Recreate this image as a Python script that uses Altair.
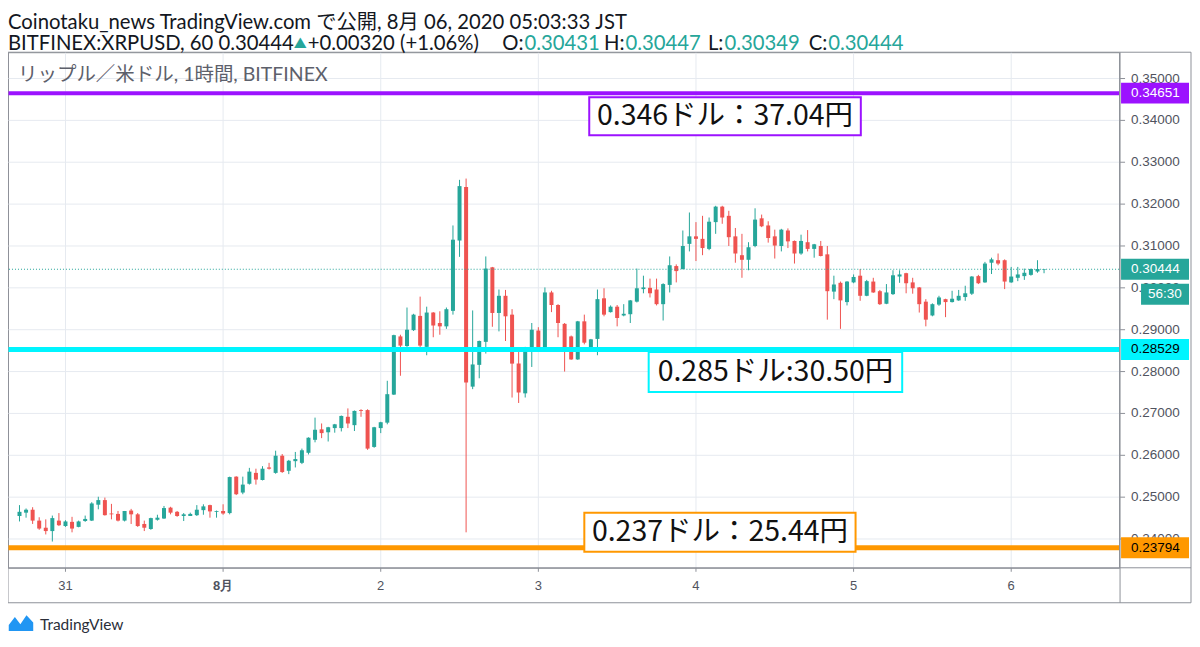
import altair as alt
import pandas as pd

# ---------------- data (hourly candles, XRP/USD, BITFINEX) ----------------
# first candle opens 30 Jul 17:00 JST; hours are counted from 31 Jul 00:00
FIRST_HOUR = -7

opens = [
    0.2455, 0.2463, 0.2470, 0.2444, 0.2427, 0.2419, 0.2444,
    0.2431, 0.2441, 0.2429, 0.2443, 0.2444, 0.2482, 0.2493, 0.2461, 0.2460, 0.2444, 0.2468, 0.2459,
    0.2436, 0.2424, 0.2446, 0.2449, 0.2475, 0.2465, 0.2455, 0.2455, 0.2457, 0.2469, 0.2481, 0.2465,
    0.2467, 0.2462, 0.2549, 0.2511, 0.2532, 0.2558, 0.2541, 0.2571, 0.2558, 0.2599, 0.2563, 0.2586,
    0.2582, 0.2606, 0.2637, 0.2662, 0.2655, 0.2665, 0.2665, 0.2692, 0.2672, 0.2708, 0.2708, 0.2620,
    0.2665, 0.2678, 0.2745, 0.2884, 0.2861, 0.2899, 0.2933, 0.2859, 0.2941, 0.2916, 0.2908, 0.2945,
    0.3113, 0.3241, 0.2764, 0.2816, 0.2871, 0.3049, 0.2940, 0.2981, 0.2936, 0.2819, 0.2748, 0.2849,
    0.2898, 0.2857, 0.2989, 0.2959, 0.2914, 0.2884, 0.2829, 0.2920, 0.2850, 0.2878, 0.2975, 0.2942,
    0.2955, 0.2934, 0.2937, 0.2967, 0.2997, 0.3000, 0.2996, 0.2961, 0.3007, 0.3052, 0.3045, 0.3105,
    0.3123, 0.3117, 0.3093, 0.3157, 0.3194, 0.3172, 0.3123, 0.3078, 0.3067, 0.3100, 0.3166, 0.3149,
    0.3123, 0.3100, 0.3137, 0.3112, 0.3082, 0.3109, 0.3093, 0.3100, 0.3080, 0.2991, 0.3012, 0.2966,
    0.3013, 0.3029, 0.2981, 0.3015, 0.2992, 0.2962, 0.2985, 0.3027, 0.3035, 0.3013, 0.3001, 0.2967,
    0.2934, 0.2960, 0.2973, 0.2966, 0.2970, 0.2978, 0.2986, 0.3028, 0.3013, 0.3060, 0.3066, 0.3066,
    0.3013, 0.3024, 0.3028, 0.3031, 0.3039, 0.30431,
]
highs = [
    0.2481, 0.2473, 0.2476, 0.2452, 0.2447, 0.2456, 0.2462,
    0.2445, 0.2453, 0.2444, 0.2456, 0.2488, 0.2501, 0.2499, 0.2484, 0.2467, 0.2467, 0.2472, 0.2462,
    0.2444, 0.2451, 0.2458, 0.2479, 0.2477, 0.2467, 0.2462, 0.2463, 0.2481, 0.2483, 0.2482, 0.2468,
    0.2483, 0.2549, 0.2550, 0.2549, 0.2570, 0.2568, 0.2574, 0.2582, 0.2611, 0.2603, 0.2589, 0.2608,
    0.2616, 0.2643, 0.2690, 0.2676, 0.2668, 0.2675, 0.2695, 0.2712, 0.2707, 0.2710, 0.2710, 0.2668,
    0.2680, 0.2778, 0.2888, 0.2888, 0.2953, 0.2938, 0.2979, 0.2955, 0.2942, 0.2944, 0.2953, 0.3149,
    0.3258, 0.3261, 0.2946, 0.2874, 0.3075, 0.3050, 0.2996, 0.2995, 0.2949, 0.2847, 0.2859, 0.2916,
    0.2906, 0.3001, 0.2993, 0.2961, 0.2916, 0.2886, 0.2921, 0.2936, 0.2878, 0.2996, 0.2999, 0.2958,
    0.2959, 0.2961, 0.2971, 0.3046, 0.3029, 0.3022, 0.3022, 0.3011, 0.3075, 0.3056, 0.3137, 0.3180,
    0.3157, 0.3172, 0.3168, 0.3196, 0.3196, 0.3184, 0.3143, 0.3129, 0.3109, 0.3190, 0.3175, 0.3159,
    0.3139, 0.3141, 0.3142, 0.3113, 0.3127, 0.3138, 0.3105, 0.3112, 0.3100, 0.3029, 0.3015, 0.3016,
    0.3032, 0.3045, 0.3019, 0.3024, 0.2995, 0.3009, 0.3042, 0.3042, 0.3036, 0.3024, 0.3002, 0.2973,
    0.2963, 0.2981, 0.2974, 0.2993, 0.2995, 0.3005, 0.3028, 0.3031, 0.3062, 0.3072, 0.3082, 0.3068,
    0.3050, 0.3050, 0.3046, 0.3046, 0.3066, 0.30447,
]
lows = [
    0.2442, 0.2451, 0.2436, 0.2422, 0.2411, 0.2394, 0.2431,
    0.2429, 0.2416, 0.2428, 0.2441, 0.2443, 0.2471, 0.2456, 0.2447, 0.2442, 0.2442, 0.2436, 0.2429,
    0.2419, 0.2422, 0.2444, 0.2448, 0.2459, 0.2453, 0.2443, 0.2455, 0.2455, 0.2458, 0.2451, 0.2451,
    0.2458, 0.2459, 0.2505, 0.2507, 0.2530, 0.2530, 0.2540, 0.2566, 0.2556, 0.2558, 0.2555, 0.2571,
    0.2579, 0.2602, 0.2631, 0.2641, 0.2633, 0.2654, 0.2657, 0.2665, 0.2658, 0.2692, 0.2613, 0.2618,
    0.2653, 0.2674, 0.2744, 0.2790, 0.2859, 0.2897, 0.2850, 0.2839, 0.2882, 0.2888, 0.2902, 0.2936,
    0.3074, 0.2416, 0.2758, 0.2784, 0.2843, 0.2907, 0.2896, 0.2873, 0.2738, 0.2725, 0.2738, 0.2811,
    0.2847, 0.2853, 0.2942, 0.2882, 0.2800, 0.2828, 0.2828, 0.2865, 0.2849, 0.2839, 0.2932, 0.2941,
    0.2908, 0.2932, 0.2916, 0.2965, 0.2987, 0.2977, 0.2958, 0.2922, 0.2989, 0.3013, 0.3044, 0.3087,
    0.3064, 0.3078, 0.3090, 0.3129, 0.3153, 0.3100, 0.3060, 0.3024, 0.3042, 0.3097, 0.3145, 0.3108,
    0.3070, 0.3087, 0.3095, 0.3058, 0.3079, 0.3087, 0.3072, 0.3075, 0.2924, 0.2973, 0.2902, 0.2958,
    0.3011, 0.2969, 0.2980, 0.2988, 0.2959, 0.2961, 0.2983, 0.3012, 0.2987, 0.2986, 0.2941, 0.2908,
    0.2932, 0.2957, 0.2930, 0.2965, 0.2969, 0.2969, 0.2983, 0.3009, 0.3012, 0.3033, 0.3054, 0.2997,
    0.3012, 0.3016, 0.3019, 0.3029, 0.3036, 0.30349,
]
closes = [
    0.2465, 0.2470, 0.2444, 0.2425, 0.2419, 0.2450, 0.2433,
    0.2442, 0.2425, 0.2442, 0.2448, 0.2485, 0.2493, 0.2457, 0.2459, 0.2444, 0.2467, 0.2459, 0.2431,
    0.2427, 0.2450, 0.2451, 0.2474, 0.2463, 0.2455, 0.2459, 0.2460, 0.2470, 0.2478, 0.2466, 0.2467,
    0.2461, 0.2548, 0.2507, 0.2530, 0.2561, 0.2542, 0.2568, 0.2568, 0.2599, 0.2560, 0.2587, 0.2591,
    0.2612, 0.2642, 0.2661, 0.2653, 0.2667, 0.2674, 0.2694, 0.2676, 0.2706, 0.2706, 0.2616, 0.2667,
    0.2679, 0.2746, 0.2887, 0.2862, 0.2900, 0.2936, 0.2862, 0.2941, 0.2910, 0.2908, 0.2949, 0.3115,
    0.3243, 0.2774, 0.2817, 0.2873, 0.3046, 0.2940, 0.2981, 0.2932, 0.2819, 0.2750, 0.2857, 0.2900,
    0.2854, 0.2989, 0.2959, 0.2916, 0.2857, 0.2829, 0.2920, 0.2869, 0.2877, 0.2973, 0.2936, 0.2955,
    0.2928, 0.2938, 0.2970, 0.2999, 0.3001, 0.2987, 0.2961, 0.3009, 0.3054, 0.3040, 0.3100, 0.3123,
    0.3117, 0.3095, 0.3158, 0.3194, 0.3168, 0.3121, 0.3082, 0.3067, 0.3097, 0.3163, 0.3147, 0.3119,
    0.3101, 0.3139, 0.3111, 0.3082, 0.3112, 0.3093, 0.3104, 0.3076, 0.2992, 0.3008, 0.2970, 0.3015,
    0.3026, 0.2981, 0.3016, 0.2989, 0.2961, 0.2989, 0.3030, 0.3032, 0.3011, 0.2999, 0.2961, 0.2924,
    0.2961, 0.2977, 0.2966, 0.2974, 0.2981, 0.2987, 0.3027, 0.3011, 0.3058, 0.3068, 0.3058, 0.3015,
    0.3027, 0.3032, 0.3036, 0.3045, 0.3045, 0.30444,
]

# horizontal levels drawn on the chart
level_prices = [0.34651, 0.28529, 0.23794]
level_colors = ["#9c12ff", "#00f5ff", "#ff9800"]
level_notes = ["0.346ドル：37.04円", "0.285ドル:30.50円", "0.237ドル：25.44円"]
last_price = 0.30444
timer_text = "56:30"

price_ticks = [0.24, 0.25, 0.26, 0.27, 0.28, 0.29, 0.30, 0.31, 0.32, 0.33, 0.34, 0.35]
day_hours = [0, 24, 48, 72, 96, 120, 144]
day_labels = ["31", "8月", "2", "3", "4", "5", "6"]

# ---------------- layout / style ----------------
W, H = 1112, 516
X_DOMAIN = [-7.99, 159.66]
Y_DOMAIN = [0.23313, 0.35628]
PX_PER_PRICE = H / (Y_DOMAIN[1] - Y_DOMAIN[0])
UP, DOWN = "#26a69a", "#ef5350"
FRAME = "#8e9199"
GRID = "#e6eaf0"
TXT = "#131722"
AXTXT = "#50535e"
LATIN = "Lato, 'Noto Sans CJK JP', sans-serif"
CJK = "'Noto Sans CJK JP', sans-serif"
AXF = "Liberation Sans, Arial, sans-serif"
AXSIZE = 13.5

df = pd.DataFrame({
    "t": [FIRST_HOUR + i for i in range(len(opens))],
    "open": opens, "high": highs, "low": lows, "close": closes,
})
df["dir"] = ["up" if c >= o else "down" for o, c in zip(df["open"], df["close"])]
ticks_df = pd.DataFrame({"p": price_ticks})
days_df = pd.DataFrame({"h": day_hours, "label": day_labels})

one = pd.DataFrame({"a": [0]})
xs = alt.Scale(domain=X_DOMAIN, nice=False, zero=False)
ys = alt.Scale(domain=Y_DOMAIN, nice=False, zero=False)
col = alt.Color("dir:N", scale=alt.Scale(domain=["up", "down"], range=[UP, DOWN]), legend=None)


def X(f):
    return alt.X(f, scale=xs, axis=None)


def Y(f):
    return alt.Y(f, scale=ys, axis=None)


def yd(v):
    return alt.YDatum(v, scale=ys, axis=None)


def xd(v):
    return alt.XDatum(v, scale=xs, axis=None)


layers = []

# ---- grid (drawn through the scales) ----
layers.append(alt.Chart(ticks_df).mark_rule(color=GRID, strokeWidth=1).encode(y=Y("p:Q")))
layers.append(alt.Chart(days_df).mark_rule(color=GRID, strokeWidth=1).encode(x=X("h:Q")))

# ---- candles ----
layers.append(alt.Chart(df).mark_rule(strokeWidth=1).encode(
    x=X("t:Q"), y=Y("low:Q"), y2="high:Q", color=col))
layers.append(alt.Chart(df).mark_bar(size=4).encode(
    x=X("t:Q"), y=Y("open:Q"), y2="close:Q", color=col))

# last-price dotted line
layers.append(alt.Chart(one).mark_rule(color=UP, strokeWidth=1, strokeDash=[1, 2]).encode(
    y=yd(last_price)))

# thick horizontal levels
for p, c, w in zip(level_prices, level_colors, [4, 5, 5]):
    layers.append(alt.Chart(one).mark_rule(color=c, strokeWidth=w).encode(y=yd(p)))

# annotation boxes (anchored in data space: hours, price)
boxes = [(79.75, 121.1, 0.34554, 0.33647), (88.8, 127.4, 0.28468, 0.27513), (79.0, 120.3, 0.24625, 0.23695)]
for (t0, t1, p0, p1), c, note in zip(boxes, level_colors, level_notes):
    layers.append(alt.Chart(one).mark_rect(fill="white", stroke=c, strokeWidth=2).encode(
        x=xd(t0), x2=alt.X2Datum(t1), y=yd(p0), y2=alt.Y2Datum(p1)))
    layers.append(alt.Chart(one).mark_text(font=CJK, fontSize=28.5, color="#111111",
                                           align="center", baseline="middle").encode(
        x=xd((t0 + t1) / 2), y=yd((p0 + p1) / 2), text=alt.value(note)))

# ---- frame of the widget ----
layers.append(alt.Chart(one).mark_rect(fill="transparent", stroke=FRAME, strokeWidth=1).encode(
    x=alt.value(0), x2=alt.value(W + 72), y=alt.value(0), y2=alt.value(H + 35)))
layers.append(alt.Chart(one).mark_rule(color=FRAME, strokeWidth=1).encode(
    x=alt.value(0), x2=alt.value(W + 72), y=alt.value(H)))
layers.append(alt.Chart(one).mark_rule(color=FRAME, strokeWidth=1).encode(
    x=alt.value(W + 1), y=alt.value(0), y2=alt.value(H + 35)))

# ---- price axis (right) ----
layers.append(alt.Chart(ticks_df).mark_rule(color=FRAME, strokeWidth=1).encode(
    x=alt.value(W + 1), x2=alt.value(W + 6), y=Y("p:Q")))
layers.append(alt.Chart(ticks_df).mark_text(font=AXF, fontSize=AXSIZE, color=AXTXT, align="left",
                                            baseline="middle").encode(
    x=alt.value(W + 12), y=Y("p:Q"), text=alt.Text("p:Q", format=".5f")))

# ---- time axis (bottom) ----
layers.append(alt.Chart(days_df).mark_rule(color=FRAME, strokeWidth=1).encode(
    x=X("h:Q"), y=alt.value(H), y2=alt.value(H + 4)))
layers.append(alt.Chart(days_df).transform_filter("datum.h != 24").mark_text(
    font=AXF, fontSize=13, color=AXTXT, align="center", baseline="middle").encode(
    x=X("h:Q"), y=alt.value(H + 18), text="label:N"))
layers.append(alt.Chart(days_df).transform_filter("datum.h == 24").mark_text(
    font=AXF, fontSize=13, color=AXTXT, align="center", baseline="middle", fontWeight="bold").encode(
    x=X("h:Q"), y=alt.value(H + 18), text="label:N"))

# ---- price tags on the right axis ----
half = 10.5 / PX_PER_PRICE
tags = [(level_prices[0], level_colors[0], "white"), (last_price, UP, "white"),
        (level_prices[1], level_colors[1], "black"), (level_prices[2], level_colors[2], "black")]
for p, bg, fg in tags:
    layers.append(alt.Chart(one).mark_rect(fill=bg).encode(
        x=alt.value(W + 2), x2=alt.value(W + 70), y=yd(p + half), y2=alt.Y2Datum(p - half)))
    layers.append(alt.Chart(one).mark_text(font=AXF, fontSize=AXSIZE, color=fg, align="left",
                                           baseline="middle").encode(
        x=alt.value(W + 12), y=yd(p), text=alt.value("%.5f" % p)))
# countdown box under the last price tag
tp = last_price - 25 / PX_PER_PRICE
layers.append(alt.Chart(one).mark_rect(fill=UP).encode(
    x=alt.value(W + 22), x2=alt.value(W + 70), y=yd(tp + half), y2=alt.Y2Datum(tp - half)))
layers.append(alt.Chart(one).mark_text(font=AXF, fontSize=AXSIZE, color="white", align="left",
                                       baseline="middle").encode(
    x=alt.value(W + 29), y=yd(tp), text=alt.value(timer_text)))


def txt(s, x, y, size, color, font=LATIN, align="left"):
    return alt.Chart(one).mark_text(font=font, fontSize=size, color=color, align=align,
                                    baseline="middle").encode(
        x=alt.value(x), y=alt.value(y), text=alt.value(s))


# header lines
layers.append(txt("Coinotaku_news TradingView.com で公開, 8月 06, 2020 05:03:33 JST", 0, -29, 20.3, TXT))
L2 = -8
layers.append(txt("BITFINEX:XRPUSD, 60 0.30444", 0, L2, 20.3, TXT))
layers.append(txt("▲", 286, L2, 13, UP))
layers.append(txt("+0.00320 (+1.06%)", 300, L2, 20.3, TXT))
for label, start, value in [("O:", 517, "0.30431"), ("H:", 618, "0.30447"),
                            ("L:", 717, "0.30349"), ("C:", 821, "0.30444")]:
    layers.append(txt(label, start - 1, L2, 20.3, TXT, align="right"))
    layers.append(txt(value, start, L2, 20.3, UP))
layers.append(txt("リップル／米ドル, 1時間, BITFINEX", 10, 23, 19.5, "#5d606b"))

# TradingView footer
layers.append(alt.Chart(one).mark_point(
    shape="M-1,0.6 L-1,0.1 L-0.5,-0.55 L-0.05,0.05 L0.45,-0.7 L1,-0.1 L1,0.6 Z",
    filled=True, color="#2196f3", opacity=1, size=600).encode(x=alt.value(13), y=alt.value(572)))
layers.append(txt("TradingView", 32, 573, 15.5, "#2a2e39"))

chart = alt.layer(*layers).properties(
    width=W, height=H, background="white",
    padding={"left": 0, "top": 44, "right": 73, "bottom": 66},
    autosize=alt.AutoSizeParams(type="none"),
).configure_view(stroke=FRAME, strokeWidth=1)

chart.save("out.html", embed_options={"renderer": "svg", "actions": False})
